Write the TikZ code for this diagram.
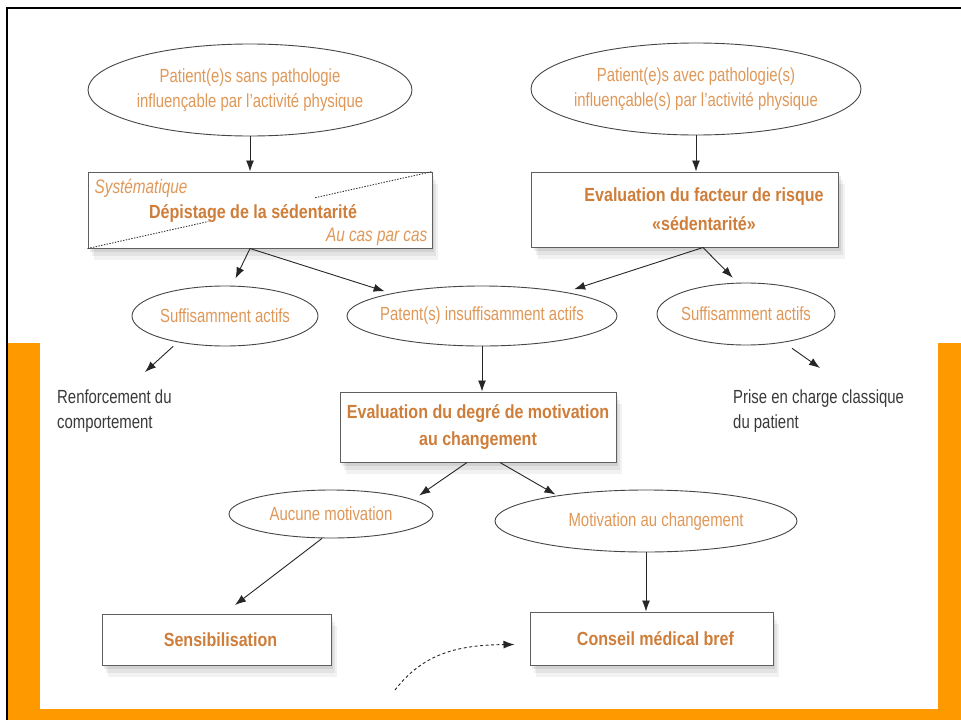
\documentclass[tikz,border=0pt]{standalone}
\usepackage{fontspec}
\setmainfont{Liberation Sans}[FakeStretch=0.785, BoldFeatures={FakeStretch=0.845}]
\usetikzlibrary{shapes.geometric,arrows.meta,shadows,calc}
\definecolor{frameorange}{RGB}{255,153,0}
\definecolor{etext}{RGB}{224,152,88}
\definecolor{btext}{RGB}{206,126,58}
\definecolor{dark}{RGB}{58,58,58}
\definecolor{ellgray}{RGB}{70,70,70}
\definecolor{boxgray}{RGB}{95,95,95}
\begin{document}
\begin{tikzpicture}[x=1pt,y=-1pt,
  ell/.style={ellipse, draw=ellgray, line width=0.9pt, inner sep=0pt},
  etx/.style={align=center, text=etext, inner sep=0pt, font=\fontsize{19}{25}\selectfont},
  shadowy/.style={
    general shadow={fill=black, opacity=0.05, shadow xshift=6pt, shadow yshift=-12pt},
    general shadow={fill=black, opacity=0.06, shadow xshift=4pt, shadow yshift=-8pt},
    general shadow={fill=black, opacity=0.08, shadow xshift=2pt, shadow yshift=-4pt}},
  box/.style={rectangle, draw=boxgray, line width=1pt, fill=white, inner sep=0pt,
    align=center, text=btext, font=\bfseries\fontsize{19}{29}\selectfont, shadowy},
  btx/.style={align=center, text=btext, inner sep=0pt, font=\bfseries\fontsize{19}{29}\selectfont},
  arr/.style={-{Latex[length=11pt,width=8pt]}, line width=0.9pt, draw=black!85},
  dotline/.style={line width=0.9pt, draw=black!80, dash pattern=on 1.4pt off 1.4pt},
  plain/.style={anchor=north west, align=left, text=dark, font=\fontsize{19}{25}\selectfont, inner sep=0pt},
  itx/.style={text=etext, font=\itshape\fontsize{19.5}{20}\selectfont, inner sep=0pt}
]
\useasboundingbox (0,0) rectangle (961,720);
\fill[white] (0,0) rectangle (961,720);
% frame
\fill[frameorange] (8,343) rectangle (40,720);
\fill[frameorange] (938,343) rectangle (961,720);
\fill[frameorange] (8,709) rectangle (961,720);
\draw[line width=2.5pt, black] (7,720) -- (7,8) -- (961,8);

% top ellipses
\node[ell, minimum width=324pt, minimum height=92pt] (e1) at (250,90) {};
\node[etx] (e1t) at (e1.center) {Patient(e)s sans pathologie\\influençable par l’activité physique};
\node[ell, minimum width=330pt, minimum height=92pt] (e2) at (696,89) {};
\node[etx] (e2t) at (e2.center) {Patient(e)s avec pathologie(s)\\influençable(s) par l’activité physique};

% boxes row 1
\node[box, minimum width=344pt, minimum height=76pt] (b1) at (260,210) {};
\draw[dotline] (b1.south west) -- ($(b1.south west)!0.35!(b1.north east)$);
\draw[dotline] ($(b1.south west)!0.66!(b1.north east)$) -- (b1.north east);
\node[itx, anchor=west] (sys) at ($(b1.north west)+(7,17)$) {Systématique};
\node[btx] (dep) at ($(b1.center)+(-7,4)$) {Dépistage de la sédentarité};
\node[itx, anchor=east] (cas) at ($(b1.south east)+(-5,-12)$) {Au cas par cas};

\node[box, minimum width=307pt, minimum height=75pt] (b2) at (685,209.5) {};
\node[btx] (b2t) at ($(b2.center)+(19,0)$) {Evaluation du facteur de risque\\«sédentarité»};

% second row ellipses
\node[ell, minimum width=186pt, minimum height=60pt] (sa1) at (225,316) {};
\node[etx] (sa1t) at (sa1.center) {Suffisamment actifs};
\node[ell, minimum width=270pt, minimum height=60pt] (pat) at (482,316) {};
\node[etx] (patt) at (pat.center) {Patent(s) insuffisamment actifs};
\node[ell, minimum width=178pt, minimum height=62pt] (sa2) at (746,314) {};
\node[etx] (sa2t) at (sa2.center) {Suffisamment actifs};

\node[plain] (renf) at (57,390) {Renforcement du\\comportement};
\node[plain] (prise) at (733,390) {Prise en charge classique\\du patient};

\node[box, minimum width=276pt, minimum height=70pt, font=\bfseries\fontsize{19}{27}\selectfont] (b3) at (478,427)
  {Evaluation du degré de motivation\\au changement};

\node[ell, minimum width=204pt, minimum height=48pt] (auc) at (331,514) {};
\node[etx] (auct) at (auc.center) {Aucune motivation};
\node[ell, minimum width=302pt, minimum height=62pt] (mot) at (646,521) {};
\node[etx] (mott) at ($(mot.center)+(10,1)$) {Motivation au changement};

\node[box, minimum width=229pt, minimum height=51pt] (sens) at (216.5,639.5) {};
\node[btx] (senst) at ($(sens.center)+(4,0)$) {Sensibilisation};
\node[box, minimum width=243pt, minimum height=53pt] (cons) at (651.5,638.5) {};
\node[btx] (const) at ($(cons.center)+(4,0)$) {Conseil médical bref};

% free ends
\coordinate (rf) at (145,372);
\coordinate (pc) at (820,368);
\coordinate (sx) at (235,605);
\coordinate (ds) at (395,690);

% connectors
\draw[arr] (e1.south) -- (e1.south |- b1.north);
\draw[arr] (e2.south) -- (e2.south |- b2.north);
\draw[arr, shorten >=8pt] ([xshift=-10pt]b1.south) -- (sa1.77);
\draw[arr, shorten >=7pt] ([xshift=-10pt]b1.south) -- (pat.166);
\draw[arr, shorten >=9pt] ([xshift=18pt]b2.south) -- (pat.16);
\draw[arr, shorten >=7pt] ([xshift=18pt]b2.south) -- (sa2.105);
\draw[arr, shorten <=6pt] (sa1.209) -- (rf);
\draw[arr, shorten <=10pt] (sa2.-37) -- (pc);
\draw[arr] (pat.south) -- (pat.south |- b3.north);
\draw[arr, shorten >=7pt] ([xshift=-11pt]b3.south) -- (auc.10);
\draw[arr, shorten >=2pt] ([xshift=22pt]b3.south) -- (mot.164);
\draw[arr] ([xshift=-9pt]auc.south) -- (sx);
\draw[arr] (mot.south) -- (mot.south |- cons.north);
\draw[arr, dash pattern=on 3pt off 2.5pt] (ds) .. controls (422,655) and (455,645) .. ($(cons.west)+(-15,6)$);
\end{tikzpicture}
\end{document}
